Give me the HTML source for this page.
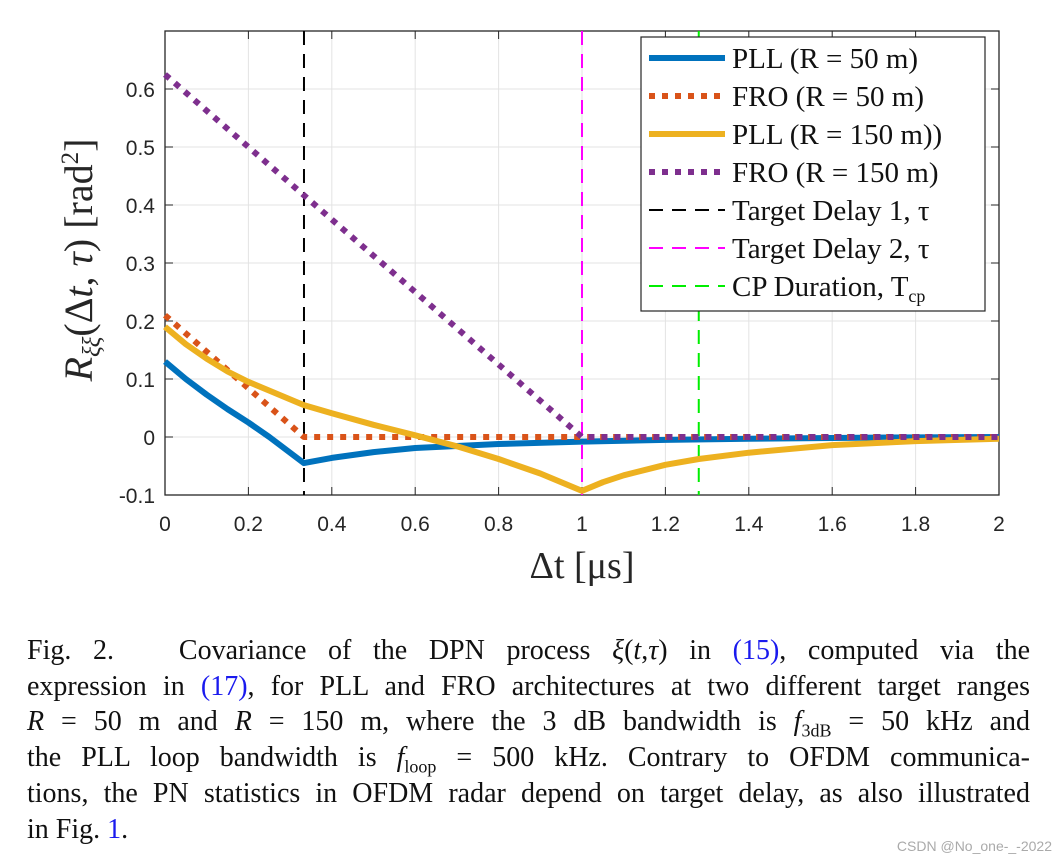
<!DOCTYPE html>
<html><head><meta charset="utf-8">
<style>
html,body{margin:0;padding:0;background:#fff;width:1062px;height:864px;overflow:hidden;position:relative}
.cap{position:absolute;left:27px;width:1003px;font-family:"Liberation Serif",serif;font-size:28px;color:#111;line-height:36px;text-align:justify;text-align-last:justify;white-space:nowrap}
.cap.last{text-align-last:left}
.lnk{color:#1a1aee}
i{font-style:italic}
.wm{position:absolute;right:10px;top:838px;font-family:"Liberation Sans",sans-serif;font-size:14px;color:#aaa}
</style></head><body>
<svg id="chart" width="1062" height="600" style="position:absolute;left:0;top:0" font-family="Liberation Sans, sans-serif"></svg>
<div class="cap" style="top:633px">Fig. 2. &nbsp; Covariance of the DPN process <i>ξ</i>(<i>t</i>,<i>τ</i>) in <span class="lnk">(15)</span>, computed via the</div>
<div class="cap" style="top:669px">expression in <span class="lnk">(17)</span>, for PLL and FRO architectures at two different target ranges</div>
<div class="cap" style="top:704px"><i>R</i> = 50 m and <i>R</i> = 150 m, where the 3 dB bandwidth is <i>f</i><sub style="font-size:18px">3dB</sub> = 50 kHz and</div>
<div class="cap" style="top:740px">the PLL loop bandwidth is <i>f</i><sub style="font-size:18px">loop</sub> = 500 kHz. Contrary to OFDM communica-</div>
<div class="cap" style="top:776px">tions, the PN statistics in OFDM radar depend on target delay, as also illustrated</div>
<div class="cap last" style="top:812px">in Fig. <span class="lnk">1</span>.</div>
<div class="wm">CSDN @No_one-_-2022</div>
<script>
const xTicks=[0,0.2,0.4,0.6,0.8,1,1.2,1.4,1.6,1.8,2];
const xTickLabels=["0","0.2","0.4","0.6","0.8","1","1.2","1.4","1.6","1.8","2"];
const yTicks=[-0.1,0,0.1,0.2,0.3,0.4,0.5,0.6];
const yTickLabels=["-0.1","0","0.1","0.2","0.3","0.4","0.5","0.6"];
const pll50X=[0,0.05,0.1,0.15,0.2,0.25,0.333,0.4,0.5,0.6,0.8,1.0,1.2,1.4,1.7,2];
const pll50Y=[0.13,0.1,0.073,0.048,0.025,0.0,-0.045,-0.036,-0.026,-0.019,-0.012,-0.008,-0.005,-0.003,-0.001,0];
const fro50X=[0,0.333,2];
const fro50Y=[0.21,0,0];
const pll150X=[0,0.05,0.1,0.15,0.2,0.25,0.333,0.4,0.5,0.6,0.7,0.8,0.9,1.0,1.05,1.1,1.2,1.28,1.4,1.6,1.8,2];
const pll150Y=[0.19,0.16,0.135,0.113,0.095,0.08,0.055,0.041,0.021,0.003,-0.016,-0.038,-0.063,-0.093,-0.078,-0.066,-0.048,-0.038,-0.027,-0.014,-0.007,-0.003];
const fro150X=[0,1,2];
const fro150Y=[0.625,0,0];
const vlineX=[0.3333,1,1.28];
const seriesNames=["PLL (R = 50 m)","FRO (R = 50 m)","PLL (R = 150 m))","FRO (R = 150 m)","Target Delay 1, τ","Target Delay 2, τ","CP Duration, T"];

const L=165,R=999,T=31,B=495,X0=0,X1=2,Y0=-0.1,Y1=0.7;
const sx=v=>L+(v-X0)/(X1-X0)*(R-L);
const sy=v=>B-(v-Y0)/(Y1-Y0)*(B-T);
const svg=document.getElementById('chart');
const NS='http://www.w3.org/2000/svg';
function mk(tag,attrs,parent){const e=document.createElementNS(NS,tag);for(const k in attrs)e.setAttribute(k,attrs[k]);(parent||svg).appendChild(e);return e;}

xTicks.forEach((v,i)=>{
  const g=mk('line',{x1:sx(v),x2:sx(v),y1:T,y2:B,stroke:'#e3e3e3','stroke-width':1});
  
  
  const t=mk('text',{x:sx(v),y:B+36,'text-anchor':'middle','font-size':21,fill:'#262626'});
  t.textContent=xTickLabels[i];
  
  
  mk('line',{x1:sx(v),x2:sx(v),y1:B,y2:B-8,stroke:'#262626','stroke-width':1});
  mk('line',{x1:sx(v),x2:sx(v),y1:T,y2:T+8,stroke:'#262626','stroke-width':1});
});
yTicks.forEach((v,i)=>{
  const g=mk('line',{x1:L,x2:R,y1:sy(v),y2:sy(v),stroke:'#e3e3e3','stroke-width':1});
  
  
  const t=mk('text',{x:L-10,y:sy(v)+8,'text-anchor':'end','font-size':21,fill:'#262626'});
  t.textContent=yTickLabels[i];
  
  
  mk('line',{x1:L,x2:L+8,y1:sy(v),y2:sy(v),stroke:'#262626','stroke-width':1});
  mk('line',{x1:R,x2:R-8,y1:sy(v),y2:sy(v),stroke:'#262626','stroke-width':1});
});
const frame=mk('rect',{x:L,y:T,width:R-L,height:B-T,fill:'none',stroke:'#262626','stroke-width':1.3});



const vcol=['#000','#ff00ff','#00ee00'];
vlineX.forEach((v,i)=>{
  const l=mk('line',{x1:sx(v),x2:sx(v),y1:T,y2:B,stroke:vcol[i],'stroke-width':2,'stroke-dasharray':'14 9'});
  
  
});
function series(xs,ys,col,dash,name){
  const d=xs.map((v,i)=>(i?'L':'M')+sx(v).toFixed(1)+' '+sy(ys[i]).toFixed(1)).join(' ');
  const p=mk('path',{d:d,fill:'none',stroke:col,'stroke-width':6,'stroke-linejoin':'round'});
  if(dash)p.setAttribute('stroke-dasharray',dash);
  
  
}
series(pll50X,pll50Y,'#0072bd',null,'pll-50m-line');
series(fro50X,fro50Y,'#d95319','6 7','fro-50m-line');
series(pll150X,pll150Y,'#edb120',null,'pll-150m-line');
series(fro150X,fro150Y,'#7e2f8e','6 7','fro-150m-line');

const lg=mk('g',{});


mk('rect',{x:641,y:37,width:344,height:274,fill:'#fff',stroke:'#262626','stroke-width':1.2},lg);
const lcols=['#0072bd','#d95319','#edb120','#7e2f8e','#000','#ff00ff','#00ee00'];
const ldash=[null,'6 7',null,'6 7','14 9','14 9','14 9'];
const lw=[6,6,6,6,2,2,2];
seriesNames.forEach((n,i)=>{
  const y=58+i*38;
  const g=mk('g',{},lg);
  
  
  const ln=mk('line',{x1:649,x2:725,y1:y,y2:y,stroke:lcols[i],'stroke-width':lw[i]},g);
  if(ldash[i])ln.setAttribute('stroke-dasharray',ldash[i]);
  const t=mk('text',{x:732,y:y+10,'font-size':29,'font-family':'Liberation Serif, serif',fill:'#111'},g);
  t.textContent=n;
  if(i==6){const s=mk('tspan',{'font-size':18,dy:6},t);s.textContent='cp';}
});

const xt=mk('text',{x:582,y:578,'text-anchor':'middle','font-size':38,'font-family':'Liberation Serif, serif',fill:'#262626'});
xt.textContent='Δt [μs]';


const yt=mk('text',{x:0,y:0,'text-anchor':'middle','font-size':40,'font-family':'Liberation Serif, serif',fill:'#262626',transform:'translate(92,260) rotate(-90)'});
yt.innerHTML='<tspan font-style="italic">R</tspan><tspan font-size="25" dy="8" font-style="italic">ξξ</tspan><tspan dy="-8">(Δ</tspan><tspan font-style="italic">t</tspan>, <tspan font-style="italic">τ</tspan>)  [rad<tspan font-size="25" dy="-14">2</tspan><tspan dy="14">]</tspan>';


</script>
</body></html>
